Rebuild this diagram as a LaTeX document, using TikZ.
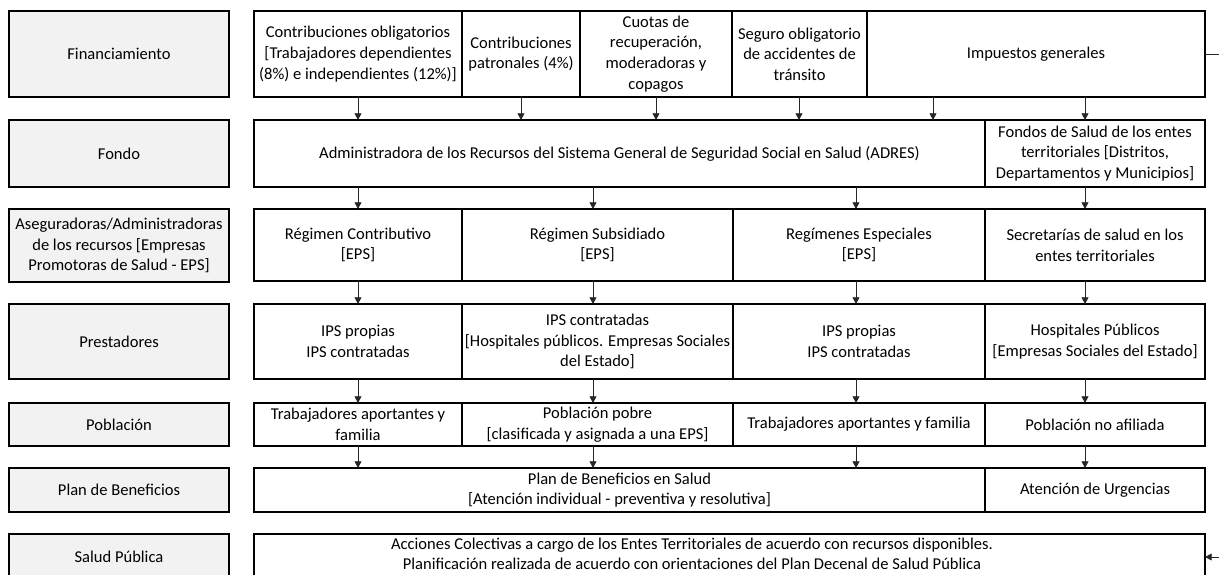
\documentclass[tikz,border=0pt]{standalone}
\usepackage{fontspec}
\setmainfont{Carlito}
\usetikzlibrary{arrows.meta}
\tikzset{
  box/.style={draw=black,line width=0.95pt,inner sep=0pt,outer sep=0pt,align=center,
    font=\fontsize{12.4}{15.5}\selectfont,fill=white},
  lab/.style={box,fill=black!5},
  arr/.style={draw=black!85,line width=0.6pt,-{Triangle[length=5pt,width=5.2pt]}},
  txt/.style={inner sep=0pt,align=center,font=\fontsize{12.4}{14.6}\selectfont}
}
\newcommand\bx[7][]{\node[box,#1,minimum width={(#5-#3)*0.75pt},minimum height={(#6-#4)*0.75pt}] (#2) at ({(#3+#5)/2},{(#4+#6)/2}) {#7};}
\begin{document}
\begin{tikzpicture}[x=0.75pt,y=-0.75pt]
\useasboundingbox (0,0) rectangle (1219,574);
\clip (0,0) rectangle (1219,574);
% left labels
\bx[lab]{lfin}{9}{11}{229}{97}{Financiamiento}
\bx[lab]{lfon}{9}{120}{229}{187}{Fondo}
\bx[lab]{lase}{9}{209}{229}{282}{Aseguradoras/Administradoras\\de los recursos {[}Empresas\\Promotoras de Salud - EPS]}
\bx[lab]{lpre}{9}{304}{229}{379}{Prestadores}
\bx[lab]{lpob}{9}{403}{229}{446}{Población}
\bx[lab]{lpla}{9}{468}{229}{512}{Plan de Beneficios}
\bx[lab]{lsal}{9}{534}{229}{580}{Salud Pública}
% row 1
\bx{c1}{254}{11}{462}{97}{Contribuciones obligatorios\\{[}Trabajadores dependientes\\(8\%) e independientes (12\%)]}
\bx{c2}{462}{11}{580}{97}{Contribuciones\\patronales (4\%)}
\bx{c3}{580}{11}{732}{97}{Cuotas de\\recuperación,\\moderadoras y\\copagos}
\bx{c4}{732}{11}{867}{97}{Seguro obligatorio\\de accidentes de\\tránsito}
\bx{imp}{867}{11}{1205}{97}{Impuestos generales}
% row 2
\bx{adres}{254}{120}{985}{187}{Administradora de los Recursos del Sistema General de Seguridad Social en Salud (ADRES)}
\bx{fst}{985}{120}{1205}{187}{Fondos de Salud de los entes\\territoriales {[}Distritos,\\Departamentos y Municipios]}
% row 3
\bx{r1}{254}{209}{462}{281}{Régimen Contributivo\\{[}EPS]}
\bx{r2}{462}{209}{733}{281}{Régimen Subsidiado\\{[}EPS]}
\bx{r3}{733}{209}{985}{281}{Regímenes Especiales\\{[}EPS]}
\bx{r4}{985}{209}{1205}{281}{Secretarías de salud en los\\entes territoriales}
% row 4
\bx{p1}{254}{304}{462}{379}{IPS propias\\IPS contratadas}
\bx{p2}{462}{304}{733}{379}{IPS contratadas\\{[}Hospitales públicos. Empresas Sociales\\del Estado]}
\bx{p3}{733}{304}{985}{379}{IPS propias\\IPS contratadas}
\bx{p4}{985}{304}{1205}{379}{Hospitales Públicos\\{[}Empresas Sociales del Estado]}
% row 5
\bx{o1}{254}{403}{462}{446}{Trabajadores aportantes y\\familia}
\bx{o2}{462}{403}{733}{446}{Población pobre\\{[}clasificada y asignada a una EPS]}
\bx{o3}{733}{403}{985}{446}{Trabajadores aportantes y familia}
\bx{o4}{985}{403}{1205}{446}{Población no afiliada}
% row 6
\bx{plan}{254}{468}{985}{512}{Plan de Beneficios en Salud\\{[}Atención individual - preventiva y resolutiva]}
\bx{urg}{985}{468}{1205}{512}{Atención de Urgencias}
% row 7
\bx{salud}{254}{534}{1205}{580}{}
\node[txt] (saltxt) at (692,554) {Acciones Colectivas a cargo de los Entes Territoriales de acuerdo con recursos disponibles.\\Planificación realizada de acuerdo con orientaciones del Plan Decenal de Salud Pública};
% arrows row1 -> row2
\draw[arr] (358,0 |- c1.south) -- (358,0 |- adres.north);
\draw[arr] (521,0 |- c2.south) -- (521,0 |- adres.north);
\draw[arr] (656,0 |- c3.south) -- (656,0 |- adres.north);
\draw[arr] (799,0 |- c4.south) -- (799,0 |- adres.north);
\draw[arr] (933,0 |- imp.south) -- (933,0 |- adres.north);
\draw[arr] (1085,0 |- imp.south) -- (1085,0 |- fst.north);
% row2 -> row3
\draw[arr] (358,0 |- adres.south) -- (358,0 |- r1.north);
\draw[arr] (593,0 |- adres.south) -- (593,0 |- r2.north);
\draw[arr] (856,0 |- adres.south) -- (856,0 |- r3.north);
\draw[arr] (1085,0 |- fst.south) -- (1085,0 |- r4.north);
% row3 -> row4
\draw[arr] (358,0 |- r1.south) -- (358,0 |- p1.north);
\draw[arr] (593,0 |- r2.south) -- (593,0 |- p2.north);
\draw[arr] (856,0 |- r3.south) -- (856,0 |- p3.north);
\draw[arr] (1085,0 |- r4.south) -- (1085,0 |- p4.north);
% row4 -> row5
\draw[arr] (358,0 |- p1.south) -- (358,0 |- o1.north);
\draw[arr] (593,0 |- p2.south) -- (593,0 |- o2.north);
\draw[arr] (856,0 |- p3.south) -- (856,0 |- o3.north);
\draw[arr] (1085,0 |- p4.south) -- (1085,0 |- o4.north);
% row5 -> row6
\draw[arr] (358,0 |- o1.south) -- (358,0 |- plan.north);
\draw[arr] (593,0 |- o2.south) -- (593,0 |- plan.north);
\draw[arr] (856,0 |- o3.south) -- (856,0 |- plan.north);
\draw[arr] (1085,0 |- o4.south) -- (1085,0 |- urg.north);
% right side connector
\coordinate (rt) at (1235,54);
\coordinate (rb) at (1235,557);
\draw[arr] (imp.east) -- (rt) -- (rb) -- (salud.east);
\end{tikzpicture}
\end{document}
